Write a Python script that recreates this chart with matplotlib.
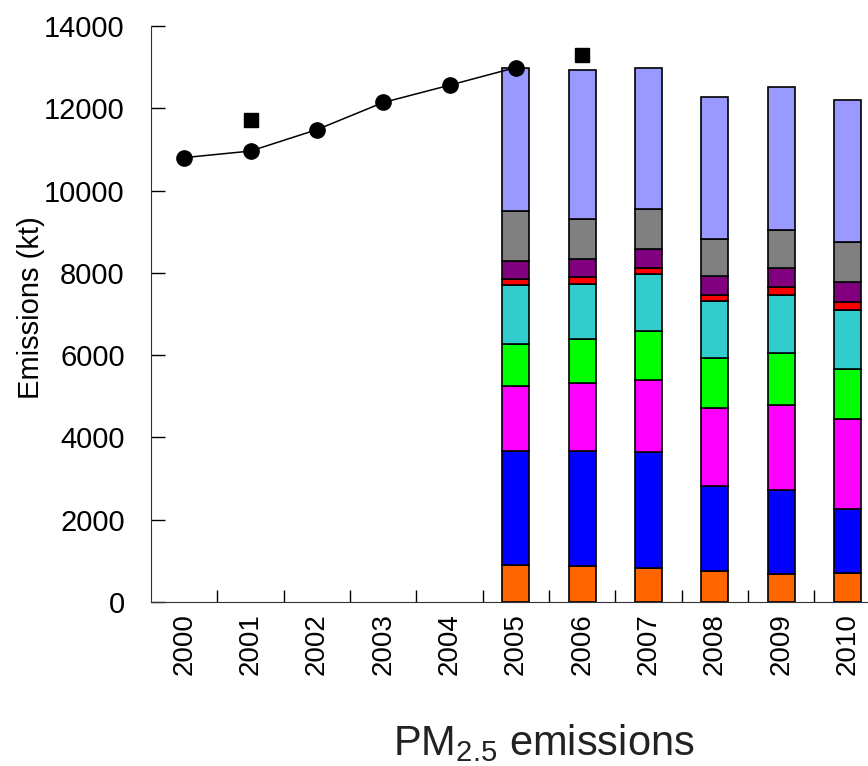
import matplotlib
matplotlib.use('Agg')
import matplotlib.pyplot as plt
import numpy as np

plt.rcParams['font.family'] = ['Liberation Sans', 'DejaVu Sans']

years = [str(y) for y in range(2000, 2011)]

# reported totals (line with circles) and the extra square points
line_years = ['2000', '2001', '2002', '2003', '2004', '2005']
line_vals = [10800, 10960, 11480, 12140, 12560, 12990]
square_years = ['2001', '2006']
square_vals = [11710, 13300]

# sector split, 2005-2010
bar_years = ['2005', '2006', '2007', '2008', '2009', '2010']
orange = [906, 867, 826, 745, 680, 713]
blue = [2763, 2802, 2811, 2074, 2033, 1539]
magenta = [1580, 1653, 1758, 1887, 2074, 2187]
green = [1028, 1076, 1190, 1223, 1264, 1230]
cyan = [1419, 1337, 1385, 1378, 1409, 1419]
red = [153, 155, 146, 153, 202, 195]
purple = [437, 438, 469, 469, 461, 493]
gray = [1223, 986, 965, 885, 924, 965]
lightblue = [3460, 3614, 3419, 3465, 3460, 3458]

segments = [orange, blue, magenta, green, cyan, red, purple, gray, lightblue]
colors = ['#FF6600', '#0000FF', '#FF00FF', '#00FF00', '#33CCCC',
          '#FF0000', '#800080', '#808080', '#9999FF']

fig = plt.figure(figsize=(8.68, 7.66), dpi=100)
ax = fig.add_axes([0.174, 0.2141, 0.8406, 0.752])

pos = {y: i for i, y in enumerate(years)}
bx = [pos[y] for y in bar_years]
bottom = np.zeros(len(bar_years))
for vals, c in zip(segments, colors):
    ax.bar(bx, vals, width=0.41, bottom=bottom, color=c, edgecolor='black',
           linewidth=1.2, zorder=2)
    bottom += np.array(vals)

ax.plot([pos[y] for y in line_years], line_vals, color='black', linewidth=1.1,
        marker='o', markersize=11, zorder=3)
ax.plot([pos[y] for y in square_years], square_vals, linestyle='none',
        color='black', marker='s', markersize=10.5, zorder=3)

ax.set_xlim(-0.5, 10.5)
ax.set_ylim(0, 14000)
ax.set_yticks(range(0, 14001, 2000))
ax.set_xticks(range(len(years)))
ax.set_xticklabels(years, rotation=90, fontsize=20)
ax.set_xticks(np.arange(0.5, 10.5, 1), minor=True)
ax.tick_params(axis='x', which='major', length=0, pad=8)
ax.tick_params(axis='x', which='minor', direction='in', length=9, width=1)
ax.tick_params(axis='y', direction='in', length=10, width=1, labelsize=21, pad=19)

for s in ['top', 'right']:
    ax.spines[s].set_visible(False)
ax.spines['left'].set_color('#333333')
ax.spines['bottom'].set_color('#333333')

fig.text(0.036, 0.599, 'Emissions (kt)', rotation=90, fontsize=21,
         ha='center', va='center')
fig.text(0.626, 0.0144, r'PM$_{\mathregular{2.5}}$ emissions', fontsize=30,
         ha='center', va='baseline', color='#222222')

plt.savefig('out.png', dpi=100)
